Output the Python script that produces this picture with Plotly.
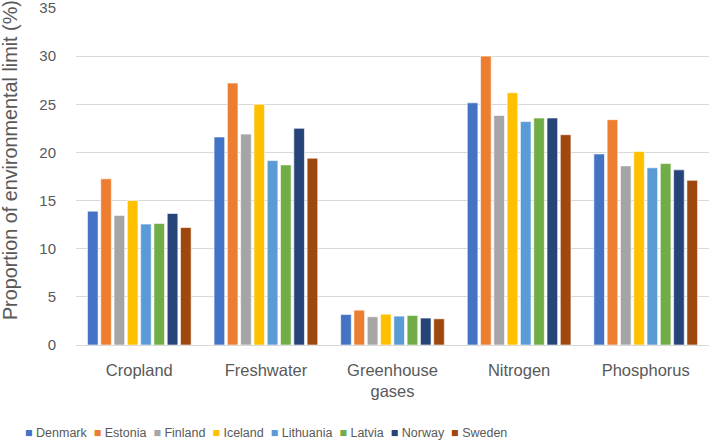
import plotly.graph_objects as go

categories = ["Cropland", "Freshwater", "Greenhouse<br>gases", "Nitrogen", "Phosphorus"]
countries = ["Denmark", "Estonia", "Finland", "Iceland", "Lithuania", "Latvia", "Norway", "Sweden"]
colors = ["#4472C4", "#ED7D31", "#A5A5A5", "#FFC000", "#5B9BD5", "#70AD47", "#264478", "#9E480E"]

denmark = [13.9, 21.6, 3.17, 25.15, 19.84]
estonia = [17.26, 27.2, 3.62, 30.0, 23.4]
finland = [13.46, 21.9, 2.93, 23.84, 18.6]
iceland = [15.0, 25.0, 3.2, 26.2, 20.1]
lithuania = [12.56, 19.15, 3.0, 23.2, 18.4]
latvia = [12.63, 18.7, 3.07, 23.57, 18.84]
norway = [13.66, 22.5, 2.8, 23.57, 18.19]
sweden = [12.2, 19.4, 2.72, 21.84, 17.1]

series = [denmark, estonia, finland, iceland, lithuania, latvia, norway, sweden]

y_ticks = [0, 5, 10, 15, 20, 25, 30, 35]
y_title = "Proportion of environmental limit (%)"

FONT = "Liberation Sans"
GREY = "#595959"

fig = go.Figure()
for name, vals, col in zip(countries, series, colors):
    fig.add_trace(go.Bar(
        x=categories, y=vals, name=name,
        marker=dict(color=col, line=dict(color="white", width=0.6)),
    ))

legend_text = "  ".join(
    f"<span style='color:{c}'>■</span> {n}" for n, c in zip(countries, colors)
)
fig.add_annotation(
    text=legend_text, xref="paper", yref="paper",
    x=0.2994, y=-0.2604, xanchor="center", yanchor="middle",
    showarrow=False, font=dict(family=FONT, size=12.5, color=GREY),
)
fig.add_annotation(
    text=y_title, xref="paper", yref="paper", textangle=-90,
    x=-0.1043, y=0.547, xanchor="center", yanchor="middle",
    showarrow=False, font=dict(family=FONT, size=19.8, color=GREY),
)

fig.update_layout(
    width=709, height=443,
    margin=dict(l=76, r=0, t=7, b=98),
    paper_bgcolor="white", plot_bgcolor="white",
    barmode="group", bargap=0.16, bargroupgap=0.2,
    showlegend=False,
    font=dict(family=FONT, size=15, color=GREY),
)
fig.update_xaxes(
    showgrid=False, showline=False, zeroline=False, automargin=False,
    tickfont=dict(family=FONT, size=16.5, color=GREY),
    ticklabelstandoff=13,
)
fig.update_yaxes(
    range=[0, 35.1], tickvals=y_ticks, showgrid=True, gridcolor="#D9D9D9", gridwidth=1,
    zeroline=True, zerolinecolor="#D9D9D9", zerolinewidth=1, showline=False,
    automargin=False, ticklabeloverflow="allow",
    tickfont=dict(family=FONT, size=15, color=GREY),
    ticklabelstandoff=19,
)

fig.write_html("out.html", config={"displayModeBar": False},
               post_script="document.body.style.margin='0';")
